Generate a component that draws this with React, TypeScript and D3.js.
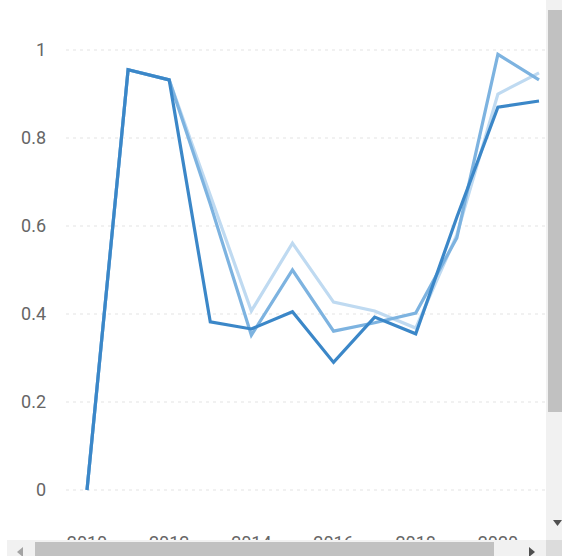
import React from "react";
import * as d3 from "d3";

const years = [2010, 2011, 2012, 2013, 2014, 2015, 2016, 2017, 2018, 2019, 2020, 2021];
const seriesLight = [0, 0.955, 0.932, 0.67, 0.407, 0.561, 0.427, 0.407, 0.368, 0.58, 0.9, 0.948];
const seriesMedium = [0, 0.955, 0.932, 0.65, 0.352, 0.5, 0.361, 0.38, 0.402, 0.573, 0.99, 0.932];
const seriesDark = [0, 0.955, 0.932, 0.382, 0.366, 0.405, 0.29, 0.393, 0.355, 0.62, 0.87, 0.884];
const yTicks = [0, 0.2, 0.4, 0.6, 0.8, 1];
const xTicks = [2010, 2012, 2014, 2016, 2018, 2020];

const W = 562;
const H = 556;

export default function App() {
  const x = d3.scaleLinear().domain([2010, 2021]).range([87, 539]);
  const y = d3.scaleLinear().domain([0, 1]).range([490, 50]);

  const line = (vals: number[]) =>
    d3
      .line<number>()
      .x((_, i) => x(years[i]))
      .y((v) => y(v))(vals) as string;

  const series = [
    { vals: seriesLight, color: "#bfdaf1" },
    { vals: seriesMedium, color: "#7db3e0" },
    { vals: seriesDark, color: "#3b87c8" },
  ];

  const fmt = (v: number) => (v === 0 || v === 1 ? String(v) : d3.format(".1f")(v));

  return (
    <svg
      width={W}
      height={H}
      style={{ position: "absolute", left: 0, top: 0, display: "block" }}
      fontFamily="Roboto, 'Noto Sans', sans-serif"
    >
      <rect x={0} y={0} width={W} height={H} fill="#ffffff" />
      {yTicks.map((t) => (
        <g key={t}>
          <line
            x1={66}
            x2={546}
            y1={y(t)}
            y2={y(t)}
            stroke="#e3e3e3"
            strokeWidth={1}
            strokeDasharray="3,4"
          />
          <text
            x={46}
            y={y(t)}
            dy="0.35em"
            textAnchor="end"
            fontSize={18}
            fill="#666666"
          >
            {fmt(t)}
          </text>
        </g>
      ))}
      {series.map((s, i) => (
        <path key={i} d={line(s.vals)} fill="none" stroke={s.color} strokeWidth={3.2} />
      ))}
      {xTicks.map((t) => (
        <text key={t} x={x(t)} y={549} textAnchor="middle" fontSize={18} fill="#666666">
          {t}
        </text>
      ))}
      {/* vertical scrollbar */}
      <rect x={546} y={0} width={16} height={541} fill="#f1f1f1" />
      <rect x={548} y={10} width={14} height={402} fill="#c1c1c1" />
      <path d="M553,520 L562,520 L557.5,526 Z" fill="#505050" />
      {/* horizontal scrollbar */}
      <rect x={7} y={540} width={539} height={16} fill="#f1f1f1" />
      <rect x={35} y={542} width={459} height={14} fill="#c1c1c1" />
      <path d="M17,552 L23,547 L23,557 Z" fill="#a3a3a3" />
      <path d="M535,552 L529,547 L529,557 Z" fill="#505050" />
      <rect x={546} y={540} width={16} height={16} fill="#dcdcdc" />
    </svg>
  );
}
